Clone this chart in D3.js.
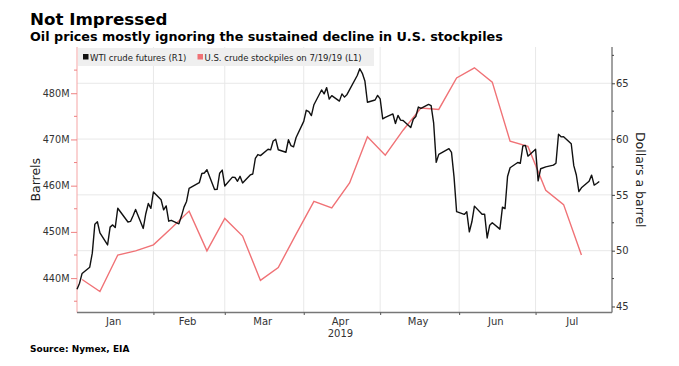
<!DOCTYPE html>
<html>
<head>
<meta charset="utf-8">
<script src="https://cdn.jsdelivr.net/npm/d3@7/dist/d3.min.js"></script>
<style>
    body { margin: 0; background: #fff; }
    svg { display: block; font-family: "DejaVu Sans", Verdana, sans-serif; }
</style>
</head>
<body>
<div id="chart"></div>
<script>
// WTI front month settle, one value per trading day (Jan 2 - Jul 26 2019)
var wtiValues = [
    46.54, 47.09, 47.96, 48.52, 49.78, 52.36, 52.59, 51.59, 50.51, 52.11, 52.31,
    52.07, 53.80, 52.57, 52.62, 53.13, 53.69, 51.99, 53.31, 54.23, 53.79,
    55.26, 54.56, 53.66, 54.01, 52.64, 52.72, 52.41, 53.10, 53.90, 54.41,
    55.59, 56.09, 56.92, 56.96, 57.26, 55.48, 55.50, 56.94, 57.22,
    55.80, 56.59, 56.56, 56.22, 56.66, 56.07, 56.79, 56.87, 58.26, 58.61, 58.52,
    59.09, 59.03, 59.83, 59.98, 59.04, 58.82, 59.94, 59.41, 59.30, 60.14,
    61.59, 62.58, 62.46, 62.10, 63.08, 64.40, 64.05, 64.61, 63.58, 63.89, 63.40,
    64.05, 63.76, 64.00, 65.70, 66.30, 65.89, 65.21, 63.30, 63.50, 63.91,
    63.60, 61.81, 61.94, 62.25, 61.40, 62.12, 61.70, 61.66, 61.04, 61.78, 62.02,
    62.87, 62.76, 63.10, 62.99, 61.42, 57.91, 58.63, 59.14, 58.81, 56.59, 53.50,
    53.25, 53.48, 51.68, 52.59, 53.99, 53.26, 53.27, 51.14, 52.28, 52.51,
    51.93, 53.90, 53.76, 56.65, 57.43, 57.90, 57.83, 59.38, 59.43, 58.47,
    59.09, 56.25, 57.34, 57.51, 57.66, 57.83, 60.43, 60.20, 60.21, 59.58,
    57.62, 56.78, 55.30, 55.63, 56.22, 56.77, 55.88, 56.02, 56.20
];
var wtiStart = "2019-01-02";
var wtiEnd = "2019-07-26";
var marketHolidays = ["2019-01-21", "2019-02-18", "2019-04-19", "2019-05-27", "2019-07-04"];

// EIA weekly crude stocks, million barrels, week ending Fridays Jan 4 - Jul 19
var stockValues = [
    439.7, 437.1, 445.0, 445.9, 447.2, 450.8, 454.5, 445.9, 452.9, 449.1,
    439.5, 442.3, 449.5, 456.6, 455.2, 460.6, 470.6, 466.6, 472.0, 476.8,
    476.5, 483.3, 485.5, 482.4, 469.6, 468.5, 459.0, 455.9, 445.0
];
var stockFirstWeek = "2019-01-04";
var stockLastWeek = "2019-07-19";

var leftTicks = [440, 450, 460, 470, 480];
var rightTicks = [45, 50, 55, 60, 65];
var monthLabels = ["Jan", "Feb", "Mar", "Apr", "May", "Jun", "Jul"];
var yearLabel = "2019";

var title = "Not Impressed";
var subtitle = "Oil prices mostly ignoring the sustained decline in U.S. stockpiles";
var legendLabels = ["WTI crude futures (R1)", "U.S. crude stockpiles on 7/19/19 (L1)"];
var sourceText = "Source: Nymex, EIA";

var width = 679,
    height = 366;
var margin = { left: 77, right: 67, top: 47, bottom: 53.5 };
var wtiColor = "#111111",
    stockColor = "#f07276";

var parse = d3.timeParse("%Y-%m-%d");

// build dates
var holidaySet = {};
marketHolidays.forEach(function(d) { holidaySet[d] = true; });
var fmt = d3.timeFormat("%Y-%m-%d");
var tradingDays = d3.timeDay.range(parse(wtiStart), d3.timeDay.offset(parse(wtiEnd), 1))
    .filter(function(d) {
        var wd = d.getDay();
        return wd != 0 && wd != 6 && !holidaySet[fmt(d)];
    });
var wti = tradingDays.map(function(d, i) { return { date: d, value: wtiValues[i] }; });

var weeks = d3.timeFriday.range(parse(stockFirstWeek), d3.timeDay.offset(parse(stockLastWeek), 1));
var stocks = weeks.map(function(d, i) { return { date: d, value: stockValues[i] }; });

var svg = d3.select("#chart").append("svg")
    .attr("width", width)
    .attr("height", height);

var x0 = margin.left,
    x1 = width - margin.right,
    y0 = margin.top,
    y1 = height - margin.bottom;

var x = d3.scaleTime()
    .domain([parse("2019-01-02"), parse("2019-07-31")])
    .range([x0, x1]);
var yLeft = d3.scaleLinear().domain([432.56, 490]).range([y1, y0]);
var yRight = d3.scaleLinear().domain([44.46, 68.25]).range([y1, y0]);

// titles
svg.append("text")
    .attr("x", 30).attr("y", 25)
    .attr("font-size", 16.7).attr("font-weight", "bold").attr("fill", "#000")
    .text(title);
svg.append("text")
    .attr("x", 30).attr("y", 41)
    .attr("font-size", 12.75).attr("font-weight", "bold").attr("fill", "#000")
    .text(subtitle);

// grid
var monthStarts = d3.timeMonth.range(parse("2019-02-01"), parse("2019-07-02"));
svg.append("g").selectAll("line.vgrid")
    .data(monthStarts)
    .enter().append("line")
    .attr("x1", function(d) { return x(d); })
    .attr("x2", function(d) { return x(d); })
    .attr("y1", y0).attr("y2", y1)
    .attr("stroke", "#e8e8e8").attr("stroke-width", 1);
svg.append("g").selectAll("line.hgrid")
    .data(rightTicks.filter(function(d) { return d > 45; }))
    .enter().append("line")
    .attr("x1", x0).attr("x2", x1)
    .attr("y1", function(d) { return yRight(d); })
    .attr("y2", function(d) { return yRight(d); })
    .attr("stroke", "#e8e8e8").attr("stroke-width", 1);

// legend
var legend = svg.append("g");
legend.append("rect")
    .attr("x", x0 + 1).attr("y", y0 + 1)
    .attr("width", 296).attr("height", 18)
    .attr("fill", "#efefef");
legend.append("rect").attr("x", 83).attr("y", 54).attr("width", 5.5).attr("height", 5.5).attr("fill", wtiColor);
legend.append("text").attr("x", 90).attr("y", 60.5)
    .attr("font-size", 8.5).attr("fill", "#222").text(legendLabels[0]);
legend.append("rect").attr("x", 197.5).attr("y", 54).attr("width", 5.5).attr("height", 5.5).attr("fill", stockColor);
legend.append("text").attr("x", 204.5).attr("y", 60.5)
    .attr("font-size", 8.5).attr("fill", "#222").text(legendLabels[1]);

// left axis (stockpiles)
var leftAxis = d3.axisLeft(yLeft)
    .tickValues(leftTicks)
    .tickSize(6)
    .tickPadding(1.5)
    .tickFormat(function(d) { return d + "M"; });
var gl = svg.append("g")
    .attr("transform", "translate(" + x0 + ",0)")
    .call(leftAxis);
gl.select(".domain").attr("stroke", "#f5a5a5").attr("d", "M0," + y0 + "V" + y1);
gl.selectAll(".tick line").attr("stroke", "#ee8080");
gl.selectAll(".tick text").attr("font-size", 9.7).attr("fill", "#333").attr("font-family", "DejaVu Sans");
gl.selectAll("line.minor")
    .data(d3.range(435, 490, 10))
    .enter().append("line")
    .attr("class", "minor")
    .attr("x1", -3).attr("x2", 0)
    .attr("y1", function(d) { return yLeft(d); })
    .attr("y2", function(d) { return yLeft(d); })
    .attr("stroke", "#ee8080");

// right axis (dollars)
var rightAxis = d3.axisRight(yRight)
    .tickValues(rightTicks)
    .tickSize(3)
    .tickPadding(1);
var gr = svg.append("g")
    .attr("transform", "translate(" + x1 + ",0)")
    .call(rightAxis);
gr.select(".domain").attr("stroke", "#444").attr("d", "M0," + y0 + "V" + y1);
gr.selectAll(".tick line").attr("stroke", "#444");
gr.selectAll(".tick text").attr("font-size", 10).attr("fill", "#333").attr("font-family", "DejaVu Sans");
gr.selectAll("line.minor")
    .data(d3.range(47.5, 68, 5))
    .enter().append("line")
    .attr("class", "minor")
    .attr("x1", 0).attr("x2", 2)
    .attr("y1", function(d) { return yRight(d); })
    .attr("y2", function(d) { return yRight(d); })
    .attr("stroke", "#444");

// bottom axis
var gb = svg.append("g")
    .attr("transform", "translate(0," + y1 + ")")
    .call(d3.axisBottom(x).tickValues(monthStarts).tickSize(2.5).tickFormat(""));
gb.select(".domain").attr("stroke", "#777").attr("stroke-width", 1.5).attr("d", "M" + x0 + ",0H" + x1);
gb.selectAll(".tick line").attr("stroke", "#555");

// month labels centred in each month's span
var bounds = [x.domain()[0]].concat(monthStarts).concat([x.domain()[1]]);
svg.append("g").selectAll("text")
    .data(monthLabels)
    .enter().append("text")
    .attr("x", function(d, i) { return (x(bounds[i]) + x(bounds[i + 1])) / 2 - 1.5; })
    .attr("y", y1 + 12.5)
    .attr("text-anchor", "middle")
    .attr("font-size", 10).attr("fill", "#333")
    .text(function(d) { return d; });
svg.append("text")
    .attr("x", (x(bounds[3]) + x(bounds[4])) / 2 - 1.5)
    .attr("y", y1 + 24.5)
    .attr("text-anchor", "middle")
    .attr("font-size", 10).attr("fill", "#333")
    .text(yearLabel);

// axis titles
svg.append("text")
    .attr("transform", "translate(40," + ((y0 + y1) / 2) + ") rotate(-90)")
    .attr("text-anchor", "middle")
    .attr("font-size", 12.5).attr("fill", "#222")
    .text("Barrels");
svg.append("text")
    .attr("transform", "translate(636," + ((y0 + y1) / 2) + ") rotate(90)")
    .attr("text-anchor", "middle")
    .attr("font-size", 12.5).attr("fill", "#222")
    .text("Dollars a barrel");

// lines
var stockLine = d3.line()
    .x(function(d) { return x(d.date); })
    .y(function(d) { return yLeft(d.value); });
var wtiLine = d3.line()
    .x(function(d) { return x(d.date); })
    .y(function(d) { return yRight(d.value); });

svg.append("path")
    .datum(stocks)
    .attr("fill", "none")
    .attr("stroke", stockColor)
    .attr("stroke-width", 1.4)
    .attr("d", stockLine);
svg.append("path")
    .datum(wti)
    .attr("fill", "none")
    .attr("stroke", wtiColor)
    .attr("stroke-width", 1.4)
    .attr("stroke-linejoin", "round")
    .attr("d", wtiLine);

// source
svg.append("text")
    .attr("x", 30).attr("y", 352)
    .attr("font-size", 9).attr("font-weight", "bold").attr("fill", "#000")
    .text(sourceText);
</script>
</body>
</html>
